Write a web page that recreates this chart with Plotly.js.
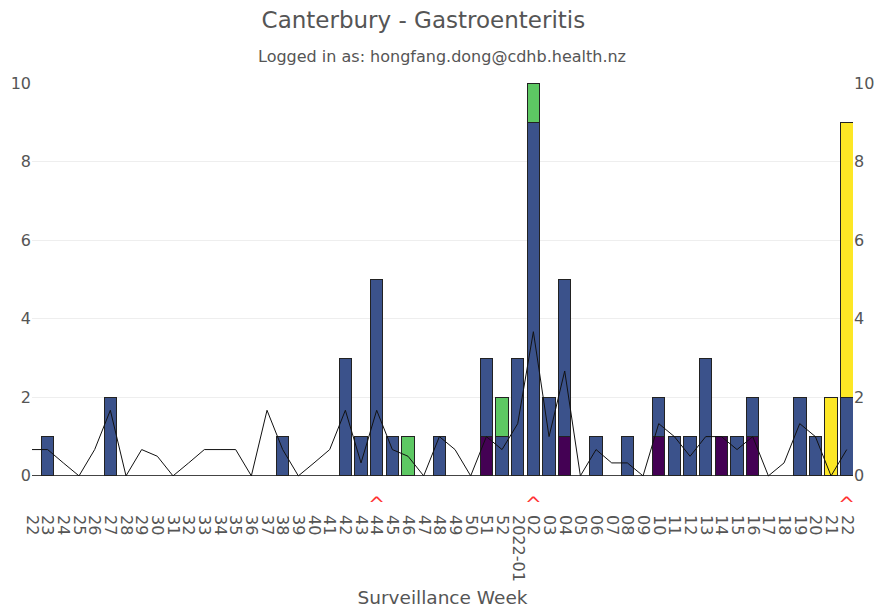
<!DOCTYPE html>
<html>
<head>
<meta charset="utf-8">
<script src="https://cdn.plot.ly/plotly-3.0.1.min.js"></script>
<style>html,body{margin:0;padding:0;background:#fff;}#chart{width:881px;height:610px;}</style>
</head>
<body>
<div id="chart"></div>
<script>
// Category keys (unique) and displayed tick labels
var weeks = ["2021-22","2021-23","2021-24","2021-25","2021-26","2021-27","2021-28","2021-29","2021-30","2021-31",
  "2021-32","2021-33","2021-34","2021-35","2021-36","2021-37","2021-38","2021-39","2021-40","2021-41",
  "2021-42","2021-43","2021-44","2021-45","2021-46","2021-47","2021-48","2021-49","2021-50","2021-51",
  "2021-52","2022-01","2022-02","2022-03","2022-04","2022-05","2022-06","2022-07","2022-08","2022-09",
  "2022-10","2022-11","2022-12","2022-13","2022-14","2022-15","2022-16","2022-17","2022-18","2022-19",
  "2022-20","2022-21","2022-22"];
var tickLabels = ["22","23","24","25","26","27","28","29","30","31",
  "32","33","34","35","36","37","38","39","40","41",
  "42","43","44","45","46","47","48","49","50","51",
  "52","2022-01","02","03","04","05","06","07","08","09",
  "10","11","12","13","14","15","16","17","18","19",
  "20","21","22"];
// Stacked bar series (null = no bar)
var seriesPurple = [null,null,null,null,null,null,null,null,null,null,
  null,null,null,null,null,null,null,null,null,null,
  null,null,null,null,null,null,null,null,null,1,
  null,null,null,null,1,null,null,null,null,null,
  1,null,null,null,1,null,1,null,null,null,
  null,null,null];
var seriesBlue = [null,1,null,null,null,2,null,null,null,null,
  null,null,null,null,null,null,1,null,null,null,
  3,1,5,1,null,null,1,null,null,2,
  1,3,9,2,4,null,1,null,1,null,
  1,1,1,3,null,1,1,null,null,2,
  1,null,2];
var seriesGreen = [null,null,null,null,null,null,null,null,null,null,
  null,null,null,null,null,null,null,null,null,null,
  null,null,null,null,1,null,null,null,null,null,
  1,null,1,null,null,null,null,null,null,null,
  null,null,null,null,null,null,null,null,null,null,
  null,null,null];
var seriesYellow = [null,null,null,null,null,null,null,null,null,null,
  null,null,null,null,null,null,null,null,null,null,
  null,null,null,null,null,null,null,null,null,null,
  null,null,null,null,null,null,null,null,null,null,
  null,null,null,null,null,null,null,null,null,null,
  null,2,7];
// Black line series
var lineValues = [0.67,0.67,0.33,0,0.67,1.67,0,0.67,0.5,0,
  0.33,0.67,0.67,0.67,0,1.67,0.67,0,0.33,0.67,
  1.67,0.33,1.67,0.67,0.5,0,1,0.67,0,1,
  0.67,1.33,3.67,1,2.67,0,0.67,0.33,0.33,0,
  1.33,1,0.5,1,1,0.67,1,0,0.33,1.33,
  1,0,0.67];
// Flagged weeks (red carets)
var flaggedWeeks = ["2021-44","2022-02","2022-22"];
var flagLevel = [-0.77,-0.77,-0.77];

var outline = {color:"#222", width:1};
function barTrace(vals, color, name){
  return {type:"bar", x:weeks, y:vals, name:name, marker:{color:color, line:outline}, hoverinfo:"x+y"};
}
var data = [
  barTrace(seriesPurple, "#440154", "A"),
  barTrace(seriesBlue, "#3B528B", "B"),
  barTrace(seriesGreen, "#5DC863", "C"),
  barTrace(seriesYellow, "#FDE725", "D"),
  {type:"scatter", mode:"lines", x:weeks, y:lineValues, yaxis:"y2", line:{color:"#111", width:1}, name:"avg"},
  {type:"scatter", mode:"text", x:flaggedWeeks, y:flagLevel, text:flaggedWeeks.map(function(){return "^";}),
   textfont:{color:"#ff3333", size:20, family:"DejaVu Sans"}, textposition:"middle center", yaxis:"y2", name:"flag"}
];
var yticks = [0,2,4,6,8,10];
var yRange = [-0.97,10];
var layout = {
  width:881, height:610,
  margin:{l:32, r:28, t:83, b:96},
  paper_bgcolor:"#fff", plot_bgcolor:"#fff",
  font:{family:"DejaVu Sans, Verdana, sans-serif", color:"#555", size:16},
  showlegend:false,
  barmode:"stack",
  bargap:0.2,
  title:{text:"Canterbury - Gastroenteritis", x:420/881, xanchor:"center", xref:"paper", y:1-20/610, yanchor:"middle",
         font:{size:23, color:"#555"}},
  annotations:[{text:"Logged in as: hongfang.dong@cdhb.health.nz", xref:"paper", yref:"paper",
    x:(442-32)/821, y:1+(83-56)/431, xanchor:"center", yanchor:"middle", showarrow:false,
    font:{size:16, color:"#555"}}],
  xaxis:{type:"category", categoryorder:"array", categoryarray:weeks, range:[0,52.4],
    tickmode:"array", tickvals:weeks, ticktext:tickLabels, tickangle:90,
    tickfont:{size:16, color:"#555"}, showgrid:false, zeroline:false, showline:false, ticks:"",
    title:{text:"Surveillance Week", font:{size:18.5, color:"#555"}, standoff:10}},
  yaxis:{range:yRange, tickmode:"array", tickvals:yticks, showgrid:true, gridcolor:"#eee",
    zeroline:true, zerolinecolor:"#444", zerolinewidth:1, showline:false, ticks:"", tickfont:{size:16, color:"#555"}},
  yaxis2:{range:yRange, tickmode:"array", tickvals:yticks, overlaying:"y", side:"right", showgrid:false,
    zeroline:false, showline:false, ticks:"", tickfont:{size:16, color:"#555"}}
};
Plotly.newPlot("chart", data, layout, {displayModeBar:false, staticPlot:true});
</script>
</body>
</html>
